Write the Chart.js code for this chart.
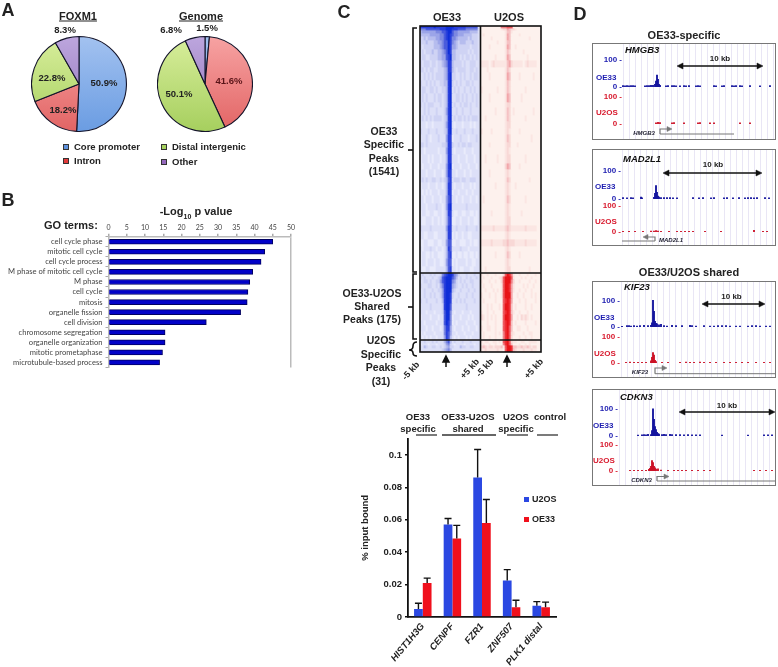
<!DOCTYPE html>
<html lang="en">
<head>
<meta charset="UTF-8">
<title>FOXM1 binding figure</title>
<script src="https://cdn.jsdelivr.net/npm/chart.js"></script>
<style>
    html, body { margin: 0; padding: 0; background: #fff; overflow: hidden; }
    #page { position: relative; width: 778px; height: 667px; font-family: "Liberation Sans", Arial, sans-serif; font-weight: bold; color: #222; }
    canvas { position: absolute; }
    #marks { position: absolute; left: 0; top: 0; }
    .t { position: absolute; white-space: nowrap; transform: translate(-50%, -50%); line-height: 1; }
    .l { transform: translate(0, -50%); }
    .panel { position: absolute; box-sizing: border-box; border: 1.5px solid #777; }
    .swatch { position: absolute; width: 6px; height: 6px; border: 1px solid #333; box-sizing: border-box; }
</style>
</head>
<body>
<div id="page">
    <canvas id="pieFoxm1" width="96" height="96" style="left:31px;top:36px"></canvas>
    <canvas id="pieGenome" width="96" height="96" style="left:157px;top:36px"></canvas>
    <canvas id="goChart" width="300" height="175" style="left:0;top:200px"></canvas>
    <canvas id="heatOe33" width="60" height="326" style="left:420px;top:26px"></canvas>
    <canvas id="heatU2os" width="60" height="326" style="left:481px;top:26px"></canvas>
    <canvas id="qpcrChart" width="200" height="237" style="left:360px;top:430px"></canvas>

    <svg id="marks" width="778" height="667">
        <!-- heatmap frame -->
        <g fill="none" stroke="#111" stroke-width="1.6">
            <rect x="420" y="26" width="121" height="326"/>
            <line x1="480.5" y1="26" x2="480.5" y2="352"/>
            <line x1="420" y1="273" x2="541" y2="273"/>
            <line x1="420" y1="340" x2="541" y2="340"/>
            <!-- brackets -->
            <path d="M417 28 H413 V272 H417"/>
            <line x1="408" y1="150" x2="413" y2="150"/>
            <path d="M417 274 H413 V339 H417"/>
            <line x1="408" y1="307" x2="413" y2="307"/>
            <path d="M417 342 Q413 342 413 346 Q413 350 409 350 Q413 350 413 353 Q413 356 417 356"/>
        </g>
        <g stroke="#111" stroke-width="1.5" fill="#111">
            <line x1="446" y1="361" x2="446" y2="367"/>
            <path d="M446 356 L449 362 L443 362 Z"/>
            <line x1="507" y1="361" x2="507" y2="367"/>
            <path d="M507 356 L510 362 L504 362 Z"/>
        </g>
        <!-- qPCR group rules -->
        <g stroke="#333" stroke-width="1.3">
            <line x1="416" y1="435" x2="437" y2="435"/>
            <line x1="442" y1="435" x2="496" y2="435"/>
            <line x1="507" y1="435" x2="528" y2="435"/>
            <line x1="537" y1="435" x2="558" y2="435"/>
        </g>
    </svg>
</div>

<script>
    // A: pies
    const pieLabels = ['Core promoter', 'Intron', 'Distal intergenic', 'Other'];
    const foxm1Shares = [50.9, 18.2, 22.8, 8.3];
    const genomeShares = [1.5, 41.6, 50.1, 6.8];

    // B: GO terms
    const goTerms = ['cell cycle phase', 'mitotic cell cycle', 'cell cycle process', 'M phase of mitotic cell cycle',
        'M phase', 'cell cycle', 'mitosis', 'organelle fission', 'cell division', 'chromosome segregation',
        'organelle organization', 'mitotic prometaphase', 'microtubule-based process'];
    const goValues = [45, 42.8, 41.8, 39.5, 38.7, 38.2, 38, 36.2, 26.8, 15.5, 15.5, 14.8, 14];

    // C: heatmap, one string per row, one digit (0-9) per column
    const rowHeights = [2,2,3,3,4,4,5,5, 6,7,5,8,6,7,9,5, 8,6,7,6,8,5,7,9, 6,8,5,7,6,8,7,6, 9,6,8,7,5,7,8,7,
        3,3,4,5,4,6,5,7,4,6,5,6,4,5, 3,2,3,4];
    const oe33Rows = [
        '888888898888899998888887777772', '666777777788899988877776666662',
        '455555556667789976655555544442', '444445555566789876655544443332',
        '334344445566789866544444343332', '333433344556779865434443334332',
        '323333344456779855433333323332', '232333433445679844333333232332',
        '233223333445578944332323323232', '323332332334568843333232233322',
        '332323322333458843233332233232', '223232323333458933223232232332',
        '322323232233448932323223323222', '233223323223348923232232232322',
        '232322232332348922332323223232', '323233322232348923223233232232',
        '223232223222358922322322232222', '232323233332348923233232323332',
        '222122122222358921222122212122', '322232223222348922322232223222',
        '222321222322258812223222122232', '332322222223348832232332332222',
        '221222222122258821222212221222', '122212122212248822212221222122',
        '212221222122258912221222122212', '222122212221258822122212212222',
        '232322332232347823332332233322', '122212221221248821222122212122',
        '212121222122248812212221221222', '221222122212257822122122212212',
        '222122223221258922222223222222', '122112211221248821122112211212',
        '211222122121247811221222122112', '322223222222258822322223222232',
        '221122211222248812122122112222', '112211122112257711221112212112',
        '212223221221248722223222122222', '122112122111247811211211211212',
        '122122212211257712122221221122', '211221112222247822121122211222',
        '232223232236789986532223222322', '323222322347899976423223232232',
        '223323223357899965323232233222', '322233223246899954322323223222',
        '223222322335899943223222322322', '223223232235899832232223223222',
        '322322223224899822323232222322', '222223222223899722222223222222',
        '222122212223799621222122212222', '122221222122799612221222121222',
        '221222221222798612122221222122', '222122122212688521222122122212',
        '121222212222687522122212221222', '212121221222587421212221212222',
        '223222323222467423222322232222', '122212221222356321222212222122',
        '224322332232345332224332233222', '222222222223456422222222222222'
    ];
    const u2osRows = [
        '111111111166677711111111111111', '111111111123354332111111111111',
        '111111111111244211111111111111', '121111111111254111121111111111',
        '111112111111254111111111211111', '111111112111244111111111111111',
        '111121111111254112111111111111', '111111111111243111111211111111',
        '111111121111254111111112111111', '222212322222245322222123222211',
        '111211111111243111111111111111', '111121111111254111121111112111',
        '111111111111243111111111111111', '211111112111243111111121111111',
        '111121111111254111112111111111', '111111111111233111111111111111',
        '111111121111243121111111112111', '112111111111243111111121111111',
        '111111111111233111111111111111', '211112111111232111121111111111',
        '111111111111243111111111121111', '111121111111233111211111111111',
        '111111111111232111111111111111', '112111112111233111111121111111',
        '111111111111354111121111111111', '111121111111232111111111111111',
        '111111111111243111111111211111', '111111121111232112111111111111',
        '111111111111232111111111111111', '121111111111243111111121111111',
        '111111111111232111111111111111', '111112111111232111112111111111',
        '111111111111233111111111111111', '222222322222343222222232222211',
        '111111111111232111111111111111', '222223222223343332222232222211',
        '111111111111232111111111111111', '111111121111243111121111111111',
        '111111111111232111111111111111', '112111111111233111111111211111',
        '211211121113798621121112111211', '121112111237999721112121121111',
        '211121121137999631121111211211', '121112111127998521111212112111',
        '112111212127998521121121121111', '211121121127999511211211121211',
        '121111121117898511121121111211', '111212111217998412111121121111',
        '211211211117898421121112111111', '321212121117998511213232121111',
        '111211121117898412111121111211', '211221121117897411221112111111',
        '121111121216897321111211221111', '121121121116897311121121121111',
        '212211221217897322112211222211', '121121121116897411121121211111',
        '343233233342799844334334323311', '223222223221799843222322232211'
    ];
    const heatBlue = ['#f5f6fe', '#e9ebfb', '#dde0f8', '#cfd3f4', '#b6bdee', '#9ca5e8', '#7c88e0', '#4a5cdc', '#2a40dc', '#0f2ed8'];
    const heatRed = ['#fff9f7', '#fdf1ed', '#fbe6e3', '#f8d8d6', '#f5c2c4', '#f2a6aa', '#ef8288', '#ee5a60', '#ee3036', '#e81418'];

    // D: genome tracks, [position along the region, read height]
    const trackPanels = [
        { id: 'hmgb3', top: 43, zero: 622, blue100: 56, blue0: 87.5, red100: 93, red0: 124 },
        { id: 'mad2l1', top: 149, zero: 621, blue100: 166.7, blue0: 199, red100: 202, red0: 232 },
        { id: 'kif23', top: 281, zero: 620, blue100: 296.7, blue0: 327.5, red100: 333, red0: 363.7 },
        { id: 'cdkn3', top: 389, zero: 618, blue100: 405, blue0: 436.7, red100: 441, red0: 471 }
    ];
    const hmgb3Oe33 = [[1,5],[3,4],[5,5],[7,4],[9,5],[11,5],[13,4],[23,4],[25,5],[27,5],[29,6],[31,6],[33,10],[34,22],[35,44],[36,28],[37,10],[38,6],[44,4],[46,5],[50,5],[52,5],[54,4],[58,4],[62,5],[64,4],[67,5],[74,4],[76,5],[78,4],[92,5],[94,4],[100,4],[102,5],[110,5],[112,4],[114,5],[118,5],[120,4],[128,5],[138,4],[148,5]];
    const hmgb3U2os = [[34,4],[36,6],[38,5],[50,4],[52,5],[62,4],[76,4],[78,5],[88,4],[92,4],[118,4],[128,4]];
    const mad2l1Oe33 = [[2,5],[6,4],[10,5],[12,4],[20,7],[21,4],[33,6],[34,20],[35,48],[36,24],[37,10],[38,7],[40,5],[43,5],[46,5],[49,5],[52,4],[56,4],[72,5],[78,4],[82,5],[90,4],[93,5],[103,4],[106,5],[112,4],[118,5],[124,4],[127,5],[130,5],[133,4],[136,5],[144,5],[148,4]];
    const mad2l1U2os = [[2,3],[8,3],[14,3],[22,3],[30,4],[33,4],[35,5],[37,4],[40,3],[48,3],[56,3],[60,3],[64,3],[68,3],[72,3],[84,3],[100,3],[133,6],[142,3],[146,3]];
    const kif23Oe33 = [[2,3],[7,5],[9,5],[11,4],[14,5],[17,4],[20,5],[24,6],[28,5],[31,6],[32,16],[33,102],[34,60],[35,22],[36,14],[37,12],[39,8],[41,10],[44,5],[47,4],[52,6],[56,5],[62,5],[70,6],[72,5],[76,4],[84,5],[90,4],[94,4],[98,5],[102,5],[106,5],[110,4],[116,4],[120,4],[128,4],[132,5],[136,5],[140,4],[146,4],[150,4]];
    const kif23U2os = [[6,3],[10,4],[14,3],[18,3],[22,3],[26,3],[31,8],[32,22],[33,40],[34,30],[35,10],[36,5],[42,3],[48,3],[60,3],[66,4],[70,3],[74,3],[80,4],[84,3],[90,3],[96,3],[104,3],[110,3],[116,3],[122,3],[128,3],[136,3],[144,3],[150,3]];
    const cdkn3Oe33 = [[20,3],[24,4],[26,5],[28,4],[30,6],[33,5],[34,20],[35,100],[36,62],[37,35],[38,24],[39,14],[40,9],[41,7],[44,5],[46,6],[48,5],[52,6],[54,5],[58,5],[62,5],[66,4],[70,5],[74,4],[78,4],[82,4],[104,3],[130,3],[146,4],[150,4],[154,4]];
    const cdkn3U2os = [[12,3],[16,3],[20,3],[24,3],[28,3],[31,6],[32,10],[33,18],[34,40],[35,32],[36,18],[37,12],[38,7],[40,8],[43,4],[50,3],[56,3],[60,3],[64,3],[68,3],[74,3],[80,3],[86,3],[92,3],[136,3],[142,3],[148,3],[154,3]];
    const trackData = {
        hmgb3: [hmgb3Oe33, hmgb3U2os], mad2l1: [mad2l1Oe33, mad2l1U2os],
        kif23: [kif23Oe33, kif23U2os], cdkn3: [cdkn3Oe33, cdkn3U2os]
    };
    const trackTicks = [0, 100];

    // E: ChIP-qPCR
    const qpcrGenes = ['HIST1H3G', 'CENPF', 'FZR1', 'ZNF507', 'PLK1 distal'];
    const qpcrU2os = [0.005, 0.057, 0.086, 0.0225, 0.007];
    const qpcrOe33 = [0.021, 0.0485, 0.058, 0.006, 0.006];
    const qpcrU2osTop = [0.0085, 0.0608, 0.1033, 0.0292, 0.0095];
    const qpcrOe33Top = [0.024, 0.0565, 0.0725, 0.0103, 0.0092];
    const qpcrTicks = [0, 0.02, 0.04, 0.06, 0.08, 0.1];

    const page = document.getElementById('page');
    const marks = document.getElementById('marks');

    Chart.defaults.animation = false;
    Chart.defaults.responsive = false;
    Chart.defaults.plugins.legend.display = false;
    Chart.defaults.plugins.tooltip.enabled = false;

    function label(text, x, y, size, extra) {
        const d = document.createElement('div');
        d.className = 't';
        d.innerHTML = text;
        d.style.cssText = `left:${x}px;top:${y}px;font-size:${size}px;${extra || ''}`;
        page.appendChild(d);
        return d;
    }
    function leftLabel(text, x, y, size, extra) {
        label(text, x, y, size, extra).classList.add('l');
    }
    function swatch(x, y, color) {
        const d = document.createElement('div');
        d.className = 'swatch';
        d.style.cssText = `left:${x}px;top:${y}px;background:${color}`;
        page.appendChild(d);
    }

    // A
    function drawPie(id, values) {
        const canvas = document.getElementById(id);
        const ctx = canvas.getContext('2d');
        const grad = (light, dark) => {
            const g = ctx.createLinearGradient(0, 0, 0, canvas.height);
            g.addColorStop(0, light);
            g.addColorStop(1, dark);
            return g;
        };
        new Chart(ctx, {
            type: 'pie',
            data: {
                labels: pieLabels,
                datasets: [{
                    data: values,
                    backgroundColor: [grad('#a3c2f0', '#6a9ce2'), grad('#f7a3a3', '#e26464'), grad('#d8ee9c', '#a6cf5e'), grad('#bda6de', '#8f72b8')],
                    borderColor: '#14142a',
                    borderWidth: 1.1
                }]
            }
        });
    }
    drawPie('pieFoxm1', foxm1Shares);
    drawPie('pieGenome', genomeShares);

    // B
    new Chart(document.getElementById('goChart'), {
        type: 'bar',
        data: {
            labels: goTerms,
            datasets: [{ data: goValues, backgroundColor: '#0202c8', borderColor: '#000060', borderWidth: 1, barThickness: 5 }]
        },
        options: {
            indexAxis: 'y',
            layout: { padding: { right: 9 } },
            scales: {
                x: {
                    position: 'top', min: 0, max: 50,
                    ticks: { stepSize: 5, padding: 2, font: { family: 'Lato', size: 7 }, color: '#444', maxRotation: 0 },
                    grid: { tickLength: 3, tickColor: '#aaa', color: c => c.tick.value === 50 ? '#bbb' : 'transparent', lineWidth: 1.5 },
                    border: { color: '#bbb', width: 1.5 },
                    afterFit: s => { s.height = 36.7; }
                },
                y: {
                    ticks: { padding: 3, font: { family: 'Lato', size: 7.6 }, color: '#444', autoSkip: false },
                    grid: { drawOnChartArea: false, tickLength: 3, color: '#aaa' },
                    border: { color: '#bbb', width: 1.5 },
                    afterFit: s => { s.width = 108.5; }
                }
            }
        }
    });

    // C
    function drawHeat(id, rows, ramp) {
        const columns = Array.from(rows[0], (_, i) => i);
        new Chart(document.getElementById(id), {
            type: 'bar',
            data: {
                labels: columns,
                datasets: rows.map((row, r) => ({
                    data: columns.map(() => rowHeights[r]),
                    backgroundColor: columns.map(c => ramp[+row[c] || 0]),
                    barPercentage: 1,
                    categoryPercentage: 1,
                    borderWidth: 0
                }))
            },
            options: {
                scales: {
                    x: { display: false, stacked: true },
                    y: { display: false, stacked: true, reverse: true, min: 0, max: 326 }
                }
            }
        });
    }
    drawHeat('heatOe33', oe33Rows, heatBlue);
    drawHeat('heatU2os', u2osRows, heatRed);

    // D
    function drawTrack(left, width, zero, y100, y0, points, color, tickColor) {
        const perUnit = (y0 - y100) / 100;
        const top = y100 - 6;
        const canvas = document.createElement('canvas');
        canvas.width = width;
        canvas.height = y0 + 6 - top;
        canvas.style.cssText = `left:${left}px;top:${top}px`;
        page.insertBefore(canvas, marks);
        new Chart(canvas, {
            type: 'bar',
            data: { datasets: [{ data: points.map(d => ({ x: d[0], y: d[1] })), backgroundColor: color, barThickness: 1.2 }] },
            options: {
                layout: { padding: { bottom: 6 } },
                scales: {
                    x: { type: 'linear', offset: false, min: 0, max: left + width - zero, display: false },
                    y: {
                        min: 0, max: (y0 - top) / perUnit,
                        afterBuildTicks: s => { s.ticks = trackTicks.map(v => ({ value: v })); },
                        afterFit: s => { s.width = zero - left; },
                        ticks: { color: tickColor, font: { family: 'Liberation Sans', weight: 'bold', size: 8 }, padding: 0, callback: v => v + ' -' },
                        grid: { display: false, drawTicks: false, tickLength: 0 },
                        border: { display: false }
                    }
                }
            }
        });
    }
    trackPanels.forEach(p => {
        const left = 592, width = 184, height = 97;
        const box = document.createElement('div');
        box.className = 'panel';
        box.style.cssText = `left:${left}px;top:${p.top}px;width:${width}px;height:${height}px;` +
            `background:repeating-linear-gradient(90deg,#e9e6f5 0 1px,transparent 1px 6px) ${p.zero - left}px 0 / 100% 100% no-repeat`;
        page.insertBefore(box, marks);
        const [oe33, u2os] = trackData[p.id];
        drawTrack(left, width, p.zero, p.blue100, p.blue0, oe33, '#14149e', '#1c1cb0');
        drawTrack(left, width, p.zero, p.red100, p.red0, u2os, '#cc1126', '#d8182c');
    });

    // E
    const errorBars = {
        id: 'errorBars',
        afterDatasetsDraw(chart) {
            const { ctx, scales } = chart;
            [qpcrU2osTop, qpcrOe33Top].forEach((tops, i) => {
                chart.getDatasetMeta(i).data.forEach((bar, j) => {
                    const yTop = scales.y.getPixelForValue(tops[j]);
                    ctx.save();
                    ctx.strokeStyle = '#111';
                    ctx.lineWidth = 1.4;
                    ctx.beginPath();
                    ctx.moveTo(bar.x, bar.y);
                    ctx.lineTo(bar.x, yTop);
                    ctx.moveTo(bar.x - 3.5, yTop);
                    ctx.lineTo(bar.x + 3.5, yTop);
                    ctx.stroke();
                    ctx.restore();
                });
            });
        }
    };
    new Chart(document.getElementById('qpcrChart'), {
        type: 'bar',
        data: {
            labels: qpcrGenes,
            datasets: [
                { label: 'U2OS', data: qpcrU2os, backgroundColor: '#2b48e2', categoryPercentage: 0.59, barPercentage: 1 },
                { label: 'OE33', data: qpcrOe33, backgroundColor: '#f0101c', categoryPercentage: 0.59, barPercentage: 1 }
            ]
        },
        options: {
            layout: { padding: { top: 7, right: 4 } },
            scales: {
                x: {
                    ticks: { minRotation: 50, maxRotation: 50, padding: -4, color: '#222', font: { family: 'Liberation Sans', weight: 'bold', style: 'italic', size: 9.5 } },
                    grid: { display: false },
                    border: { color: '#111', width: 1.8 },
                    afterFit: s => { s.height = 50; }
                },
                y: {
                    min: 0, max: 0.11,
                    afterBuildTicks: s => { s.ticks = qpcrTicks.map(v => ({ value: v })); },
                    ticks: { padding: 3, color: '#222', font: { family: 'Liberation Sans', weight: 'bold', size: 9.5 }, callback: v => String(v) },
                    title: { display: true, text: '% input bound', color: '#222', padding: 0, font: { family: 'Liberation Sans', weight: 'bold', size: 9.5 } },
                    grid: { drawOnChartArea: false, tickLength: 3, color: '#111', lineWidth: 1.4 },
                    border: { color: '#111', width: 1.8 },
                    afterFit: s => { s.width = 48; }
                }
            }
        },
        plugins: [errorBars]
    });

    // panel letters
    label('A', 8, 10, 18);
    label('B', 8, 200, 18);
    label('C', 344, 12, 18);
    label('D', 580, 14, 18);

    // A text
    label('<u>FOXM1</u>', 78, 16, 11);
    label('<u>Genome</u>', 201, 16, 11);
    label('8.3%', 65, 30, 9.5);
    label('6.8%', 171, 30, 9.5);
    label('1.5%', 207, 28, 9.5);
    label('50.9%', 104, 83, 9.5);
    label('22.8%', 52, 78, 9.5);
    label('18.2%', 63, 110, 9.5);
    label('41.6%', 229, 81, 9.5, 'color:#5a1418');
    label('50.1%', 179, 94, 9.5);
    swatch(63, 144, '#5f92de');
    swatch(63, 158, '#e23a3a');
    swatch(161, 144, '#a6d25e');
    swatch(161, 159, '#9468bc');
    leftLabel(pieLabels[0], 74, 147, 9.5);
    leftLabel(pieLabels[1], 74, 161, 9.5);
    leftLabel(pieLabels[2], 172, 147, 9.5);
    leftLabel(pieLabels[3], 172, 162, 9.5);

    // B text
    label('-Log<sub style="font-size:7px">10</sub> p value', 196, 213, 11);
    leftLabel('GO terms:', 44, 225, 11);

    // C text
    label('OE33', 447, 17, 11);
    label('U2OS', 509, 17, 11);
    [['OE33', 131], ['Specific', 144], ['Peaks', 158], ['(1541)', 171]].forEach(a => label(a[0], 384, a[1], 10.5));
    [['OE33-U2OS', 293], ['Shared', 306], ['Peaks (175)', 319]].forEach(a => label(a[0], 372, a[1], 10.5));
    [['U2OS', 340], ['Specific', 354], ['Peaks', 367], ['(31)', 381]].forEach(a => label(a[0], 381, a[1], 10.5));
    [['-5 kb', 411, 371], ['+5 kb', 470, 369], ['-5 kb', 485, 368], ['+5 kb', 534, 369]].forEach(a =>
        label(a[0], a[1], a[2], 9, 'transform:translate(-50%,-50%) rotate(-48deg)'));

    // D text
    label('OE33-specific', 684, 35, 11);
    label('OE33/U2OS shared', 689, 272, 11);
    const trackLabels = [['HMGB3', 625, 50, 596, 78, 113], ['MAD2L1', 623, 159, 595, 187, 222], ['KIF23', 624, 287, 594, 318, 354], ['CDKN3', 620, 397, 593, 426, 461]];
    trackLabels.forEach(a => {
        leftLabel(a[0], a[1], a[2], 9.5, 'font-style:italic;color:#111');
        leftLabel('OE33', a[3], a[4], 8, 'color:#1c1cb0');
        leftLabel('U2OS', a[3], a[5], 8, 'color:#d8182c');
    });
    [[720, 59], [713, 165], [731.5, 297], [727, 406]].forEach(a => label('10 kb', a[0], a[1], 8));
    label('HMGB3', 644, 133, 6, 'font-style:italic;color:#223');
    label('MAD2L1', 671, 240, 6, 'font-style:italic;color:#223');
    label('KIF23', 640, 372, 6, 'font-style:italic;color:#223');
    label('CDKN3', 641.5, 480, 6, 'font-style:italic;color:#223');

    // D arrows and gene models
    const ns = 'http://www.w3.org/2000/svg';
    function path(d, stroke, fill, w) {
        const el = document.createElementNS(ns, 'path');
        el.setAttribute('d', d);
        el.setAttribute('stroke', stroke);
        el.setAttribute('fill', fill);
        el.setAttribute('stroke-width', w);
        marks.appendChild(el);
    }
    [[677, 763, 66], [663, 762, 173], [702, 765, 304], [679, 775, 412]].forEach(([a, b, y]) => {
        path(`M${a + 4} ${y} H${b - 4}`, '#111', 'none', 1.3);
        path(`M${a} ${y} L${a + 6} ${y - 3} V${y + 3} Z M${b} ${y} L${b - 6} ${y - 3} V${y + 3} Z`, '#111', '#111', 0.5);
    });
    [[660, 134, 734, 129, 1], [655, 241, 622, 237, -1], [655, 373.7, 776, 368, 1], [657, 481, 776, 476.5, 1]].forEach(([x, y, end, yUp, dir]) => {
        path(`M${x} ${y} H${end}`, '#777', 'none', 1);
        path(`M${x} ${y} V${yUp} H${x + dir * 8}`, '#777', 'none', 1.2);
        path(`M${x + dir * 12} ${yUp} L${x + dir * 7} ${yUp - 2.5} V${yUp + 2.5} Z`, '#777', '#777', 0.5);
    });

    // E text
    [['OE33', 418, 417], ['specific', 418, 429], ['OE33-U2OS', 468, 417], ['shared', 468, 429],
     ['U2OS', 516, 417], ['specific', 516, 429], ['control', 550, 417]].forEach(a => label(a[0], a[1], a[2], 9.5));
    const legendE = [['U2OS', '#2b48e2', 499], ['OE33', '#f0101c', 519]];
    legendE.forEach(a => {
        const s = document.createElement('div');
        s.style.cssText = `position:absolute;left:524px;top:${a[2] - 2.5}px;width:5px;height:5px;background:${a[1]}`;
        page.appendChild(s);
        leftLabel(a[0], 532, a[2], 9);
    });
</script>
</body>
</html>
